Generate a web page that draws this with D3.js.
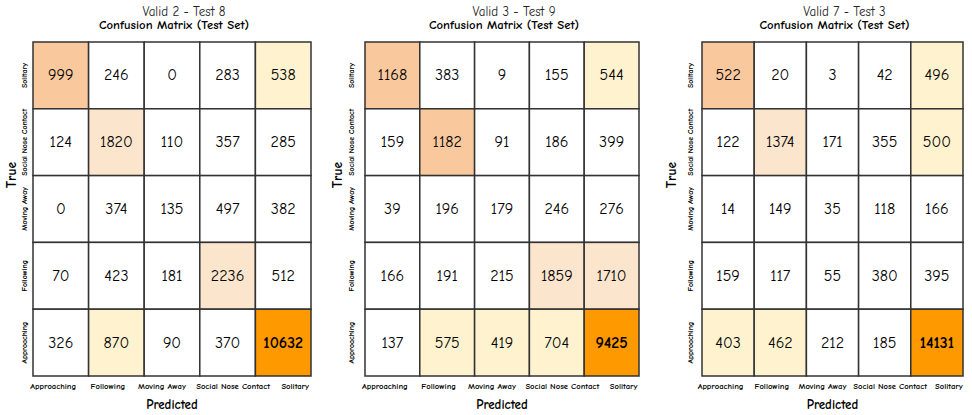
<!DOCTYPE html>
<html>
<head>
<meta charset="utf-8">
<script src="https://cdn.jsdelivr.net/npm/d3@7"></script>
<style>
  html, body { margin: 0; padding: 0; background: #fff; }
  svg { display: block; }
  text { font-family: "Comic Sans MS", "Comic Neue", Lato, "DejaVu Sans", sans-serif; fill: #000; }
</style>
</head>
<body>
<svg id="chart" width="972" height="415"></svg>
<script>
// ---------- data ----------
const predictedLabels = ["Approaching", "Following", "Moving Away", "Social Nose Contact", "Solitary"];
const trueLabels = ["Solitary", "Social Nose Contact", "Moving Away", "Following", "Approaching"]; // top to bottom

const panelTitles = ["Valid 2 - Test 8", "Valid 3 - Test 9", "Valid 7 - Test 3"];
const subTitle = "Confusion Matrix (Test Set)";

// rows follow trueLabels order, columns follow predictedLabels order
const valuesValid2 = [
  [999, 246, 0, 283, 538],
  [124, 1820, 110, 357, 285],
  [0, 374, 135, 497, 382],
  [70, 423, 181, 2236, 512],
  [326, 870, 90, 370, 10632]
];
const valuesValid3 = [
  [1168, 383, 9, 155, 544],
  [159, 1182, 91, 186, 399],
  [39, 196, 179, 246, 276],
  [166, 191, 215, 1859, 1710],
  [137, 575, 419, 704, 9425]
];
const valuesValid7 = [
  [522, 20, 3, 42, 496],
  [122, 1374, 171, 355, 500],
  [14, 149, 35, 118, 166],
  [159, 117, 55, 380, 395],
  [403, 462, 212, 185, 14131]
];

// shading level of each cell (0 = none ... 4 = strongest)
const levelsValid2 = [
  [3, 0, 0, 0, 1],
  [0, 2, 0, 0, 0],
  [0, 0, 0, 0, 0],
  [0, 0, 0, 2, 0],
  [0, 1, 0, 0, 4]
];
const levelsValid3 = [
  [3, 0, 0, 0, 1],
  [0, 3, 0, 0, 0],
  [0, 0, 0, 0, 0],
  [0, 0, 0, 2, 2],
  [0, 1, 1, 1, 4]
];
const levelsValid7 = [
  [3, 0, 0, 0, 1],
  [0, 2, 0, 0, 1],
  [0, 0, 0, 0, 0],
  [0, 0, 0, 0, 0],
  [1, 1, 0, 0, 4]
];

// ---------- layout ----------
const svg = d3.select("#chart");
const gridTop = 42, gridBottom = 376;
const xTickShift = [-7.5, -8.5, -10, 5.5, 12];
const panels = [
  { title: panelTitles[0], values: valuesValid2, levels: levelsValid2, x0: 33, x1: 311, yTickX: 24, yLabelX: 11 },
  { title: panelTitles[1], values: valuesValid3, levels: levelsValid3, x0: 365, x1: 639, yTickX: 351, yLabelX: 337.5 },
  { title: panelTitles[2], values: valuesValid7, levels: levelsValid7, x0: 702, x1: 963, yTickX: 690, yLabelX: 671 }
];

const color = d3.scaleOrdinal()
  .domain([0, 1, 2, 3, 4])
  .range(["#ffffff", "#fff2cf", "#fce5cd", "#f9c99d", "#ff9900"]);

panels.forEach(p => {
  const g = svg.append("g");
  const x = d3.scaleBand().domain(predictedLabels).range([p.x0, p.x1]);
  const y = d3.scaleBand().domain(trueLabels).range([gridTop, gridBottom]);
  const maxV = d3.max(p.values.flat());

  const cells = [];
  p.values.forEach((row, i) => row.forEach((v, j) => {
    cells.push({ t: trueLabels[i], p: predictedLabels[j], v, lvl: p.levels[i][j] });
  }));

  g.selectAll("rect.cell").data(cells).join("rect")
    .attr("class", "cell")
    .attr("x", d => x(d.p))
    .attr("y", d => y(d.t))
    .attr("width", x.bandwidth())
    .attr("height", y.bandwidth())
    .attr("fill", d => color(d.lvl))
    .attr("stroke", "#333")
    .attr("stroke-width", 1.5);

  g.selectAll("text.val").data(cells).join("text")
    .attr("class", "val")
    .attr("x", d => x(d.p) + x.bandwidth() / 2)
    .attr("y", d => y(d.t) + y.bandwidth() / 2)
    .attr("text-anchor", "middle")
    .attr("dominant-baseline", "central")
    .style("font-size", "16px")
    .style("font-weight", d => d.v === maxV ? "bold" : "normal")
    .text(d => d.v);

  // x tick labels
  g.selectAll("text.xt").data(predictedLabels).join("text")
    .attr("class", "xt")
    .attr("x", (d, i) => x(d) + x.bandwidth() / 2 + xTickShift[i])
    .attr("y", 386)
    .attr("text-anchor", "middle")
    .attr("dominant-baseline", "central")
    .style("font-size", "8.6px")
    .style("font-weight", "600")
    .text(d => d);

  // y tick labels (rotated)
  g.selectAll("text.yt").data(trueLabels).join("text")
    .attr("class", "yt")
    .attr("transform", d => `translate(${p.yTickX},${y(d) + y.bandwidth() / 2}) rotate(-90)`)
    .attr("text-anchor", "middle")
    .attr("dominant-baseline", "central")
    .style("font-size", "7.8px")
    .style("font-weight", "600")
    .text(d => d);

  const cx = (p.x0 + p.x1) / 2;
  g.append("text")
    .attr("x", cx)
    .attr("y", 404)
    .attr("text-anchor", "middle")
    .attr("dominant-baseline", "central")
    .style("font-size", "13px")
    .style("font-weight", "bold")
    .text("Predicted");

  g.append("text")
    .attr("transform", `translate(${p.yLabelX},175) rotate(-90)`)
    .attr("text-anchor", "middle")
    .attr("dominant-baseline", "central")
    .style("font-size", "13.5px")
    .style("font-weight", "bold")
    .text("True");

  g.append("text")
    .attr("x", cx + 12)
    .attr("y", 16)
    .attr("text-anchor", "middle")
    .style("font-size", "13px")
    .style("fill", "#222")
    .text(p.title);

  g.append("text")
    .attr("x", cx + 2)
    .attr("y", 29)
    .attr("text-anchor", "middle")
    .style("font-size", "12.7px")
    .style("font-weight", "bold")
    .text(subTitle);
});
</script>
</body>
</html>
